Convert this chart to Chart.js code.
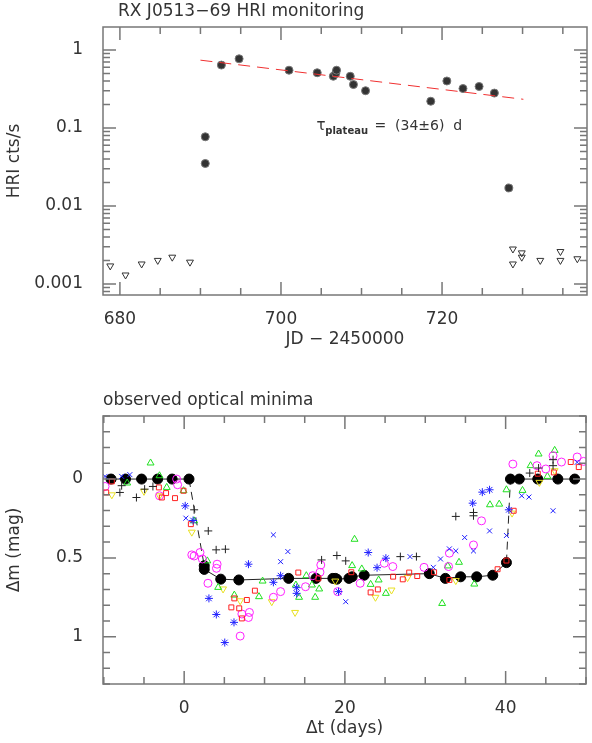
<!DOCTYPE html>
<html><head><meta charset="utf-8">
<script src="https://cdn.jsdelivr.net/npm/chart.js"></script>
<style>
body{margin:0;background:#fff;width:592px;height:743px;overflow:hidden}
.c{position:absolute;left:0;width:592px}
</style></head>
<body>
<div class="c" style="top:0;height:370px"><canvas id="top"></canvas></div>
<div class="c" style="top:370px;height:373px"><canvas id="bot"></canvas></div>
<script>
// ---- HRI monitoring (top panel) ----
const hriJD   = [690.6, 690.6, 692.6, 694.8, 701.0, 704.5, 706.5, 706.8, 706.9, 708.6, 709.0, 710.5, 718.6, 720.6, 722.6, 724.6, 726.5, 728.3];
const hriRate = [0.077, 0.035, 0.64, 0.77, 0.55, 0.51, 0.46, 0.50, 0.55, 0.46, 0.36, 0.30, 0.22, 0.40, 0.32, 0.34, 0.28, 0.017];
const limJD   = [678.8, 680.7, 682.7, 684.7, 686.5, 688.7, 728.8, 728.8, 729.9, 729.9, 732.2, 734.7, 734.7, 736.8];
const limRate = [0.0017, 0.0013, 0.0018, 0.0020, 0.0022, 0.0019, 0.0028, 0.0018, 0.0025, 0.0022, 0.0020, 0.0026, 0.0020, 0.0021];
const fitJD   = [690.0, 730.1];
const fitRate = [0.74, 0.233];

// ---- optical minima (bottom panel) ----
const meanT = [-9.1, -7.3, -5.3, -3.3, -1.5, 0.6, 2.5, 2.5, 4.55, 6.8, 13.0, 16.4, 18.5, 18.8, 19.0, 20.5, 20.9, 22.4, 30.5, 32.5, 34.4, 36.4, 38.4, 40.1, 40.6, 41.7, 44.0, 46.5, 48.6];
const meanM = [0, 0, 0, 0, 0, 0, 0.55, 0.573, 0.635, 0.64, 0.63, 0.63, 0.63, 0.63, 0.635, 0.63, 0.62, 0.61, 0.60, 0.63, 0.62, 0.62, 0.61, 0.53, 0, 0, 0, 0, 0];

const plusT = [-7.78, -8.0, -5.94, -4.92, -3.89, 1.24, 3.0, 3.98, 5.13, 17.1, 19.0, 20.1, 26.9, 28.9, 33.8, 36.0, 36.0, 43.0, 44.1, 45.9, 45.9];
const plusM = [0.042, 0.085, 0.117, 0.064, 0.047, 0.195, 0.329, 0.449, 0.445, 0.513, 0.485, 0.519, 0.492, 0.492, 0.237, 0.212, 0.233, -0.038, -0.07, -0.123, -0.085];
const starT = [0.13, 1.11, 3.08, 4.0, 5.05, 6.2, 8.0, 11.1, 12.0, 14.0, 14.0, 19.2, 22.9, 24.0, 25.1, 35.9, 37.1, 38.0, 40.4];
const starM = [0.17, 0.263, 0.757, 0.859, 1.037, 0.909, 0.54, 0.655, 0.613, 0.689, 0.725, 0.714, 0.466, 0.562, 0.502, 0.153, 0.083, 0.068, 0.195];
const xT = [-9.84, -7.78, -6.76, 0.21, 11.1, 12.0, 12.9, 20.1, 28.1, 31.0, 31.9, 33.0, 33.8, 34.9, 36.0, 38.0, 40.1, 42.0, 42.9, 45.9, 48.9];
const xM = [-0.017, -0.017, -0.028, 0.248, 0.354, 0.524, 0.46, 0.778, 0.492, 0.56, 0.507, 0.443, 0.456, 0.371, 0.456, 0.329, 0.358, 0.106, 0.114, 0.201, -0.106];
const sqT = [-9.7, -9.0, -3.15, -2.78, -2.25, -1.14, -0.08, 0.83, 5.87, 6.24, 6.85, 7.18, 7.8, 8.8, 14.2, 16.7, 20.8, 23.2, 24.1, 26.0, 27.2, 28.0, 29.0, 31.1, 33.0, 39.0, 40.1, 41.0, 44.0, 46.0, 48.1, 49.1];
const sqM = [0.085, 0.015, 0.053, 0.117, 0.089, 0.121, 0.074, 0.286, 0.814, 0.757, 0.82, 0.884, 0.767, 0.708, 0.593, 0.63, 0.591, 0.719, 0.70, 0.619, 0.636, 0.593, 0.615, 0.591, 0.64, 0.572, 0.517, 0.201, -0.034, -0.042, -0.108, -0.076];
const circT = [-9.84, -3.07, -0.94, -0.82, 0.95, 1.24, 1.97, 2.26, 2.96, 4.1, 4.02, 6.97, 7.18, 8.0, 8.12, 11.1, 12.0, 15.1, 16.0, 17.0, 16.9, 19.1, 21.9, 24.9, 25.96, 29.85, 32.9, 33.0, 36.0, 37.0, 40.9, 43.9, 45.0, 45.9, 46.95, 48.9, 49.7];
const circM = [0.047, 0.106, 0, 0.036, 0.481, 0.488, 0.466, 0.507, 0.661, 0.54, 0.566, 0.996, 0.856, 0.878, 0.846, 0.75, 0.714, 0.683, 0.613, 0.545, 0.591, 0.714, 0.661, 0.534, 0.555, 0.56, 0.555, 0.47, 0.418, 0.265, -0.095, -0.085, -0.064, -0.148, -0.108, -0.14, -0.112];
const triT = [-7.09, -4.18, -3.07, -2.17, -0.08, 1.24, 2.88, 4.23, 6.24, 9.31, 9.76, 13.9, 14.3, 15.2, 15.9, 16.3, 16.8, 20.9, 21.2, 22.1, 23.2, 24.2, 25.1, 32.1, 32.8, 34.2, 36.1, 38.05, 39.2, 40.1, 42.1, 43.1, 44.1, 45.2, 46.1];
const triM = [0.025, -0.102, -0.021, 0.053, 0.074, 0.265, 0.519, 0.687, 0.736, 0.746, 0.647, 0.672, 0.75, 0.613, 0.672, 0.75, 0.697, 0.549, 0.382, 0.57, 0.668, 0.64, 0.725, 0.789, 0.551, 0.528, 0.666, 0.163, 0.159, 0.068, 0.072, -0.085, -0.159, -0.017, -0.182];
const dtriT = [-9.0, -5.0, -3.07, 0.95, 4.84, 6.97, 10.9, 13.8, 18.8, 23.8, 25.8, 27.8, 33.8, 40.8, 44.2, 46.1];
const dtriM = [0.10, 0.078, 0.106, 0.337, 0.697, 0.772, 0.778, 0.846, 0.647, 0.75, 0.704, 0.625, 0.644, 0.216, 0.021, -0.053];

const FONT = "DejaVu Sans";
const INK = "#333";
const pts = (xs, ys) => xs.map((x, i) => ({x: x, y: ys[i]}));

// frame + inward ticks on all four sides
function frameTicks(xMajor, xMinor, yMajor, yMinor) {
  return {
    id: "frame",
    afterDraw(chart) {
      const {ctx, chartArea: a, scales} = chart;
      const xs = scales.x, ys = scales.y;
      ctx.save();
      ctx.strokeStyle = "#777";
      ctx.lineWidth = 1.5;
      ctx.strokeRect(a.left, a.top, a.right - a.left, a.bottom - a.top);
      ctx.beginPath();
      const tx = (vals, len) => vals.forEach(v => {
        const p = xs.getPixelForValue(v);
        if (p < a.left || p > a.right) return;
        ctx.moveTo(p, a.bottom); ctx.lineTo(p, a.bottom - len);
        ctx.moveTo(p, a.top); ctx.lineTo(p, a.top + len);
      });
      const ty = (vals, len) => vals.forEach(v => {
        const p = ys.getPixelForValue(v);
        if (p < a.top || p > a.bottom) return;
        ctx.moveTo(a.left, p); ctx.lineTo(a.left + len, p);
        ctx.moveTo(a.right, p); ctx.lineTo(a.right - len, p);
      });
      tx(xMajor, 13); tx(xMinor, 7); ty(yMajor, 13); ty(yMinor, 7);
      ctx.stroke();
      ctx.restore();
    }
  };
}

function range(a, b, s) { const r = []; for (let v = a; v <= b + 1e-9; v += s) r.push(+v.toFixed(4)); return r; }

const textPlugin = (items) => ({
  id: "txt",
  afterDraw(chart) {
    const ctx = chart.ctx;
    ctx.save();
    ctx.fillStyle = INK;
    items(chart).forEach(t => {
      ctx.font = t.font; ctx.textAlign = t.align || "left"; ctx.textBaseline = "middle";
      ctx.fillText(t.text, t.x, t.y);
    });
    ctx.restore();
  }
});

// ----- top chart -----
const logMinor = [];
[0.0001, 0.001, 0.01, 0.1, 1].forEach(d => { for (let k = 2; k <= 9; k++) logMinor.push(d * k); });

new Chart(document.getElementById("top"), {
  type: "scatter",
  data: {
    datasets: [
      {data: pts(fitJD, fitRate), type: "line", showLine: true, borderColor: "#f03030", borderWidth: 1, borderDash: [12, 7], pointRadius: 0},
      {data: pts(hriJD, hriRate), pointStyle: "circle", pointRadius: 4, backgroundColor: "#333", borderColor: "#777", borderWidth: 1},
      {data: pts(limJD, limRate), pointStyle: "triangle", rotation: 180, pointRadius: 4, backgroundColor: "rgba(0,0,0,0)", borderColor: "#333", borderWidth: 1}
    ]
  },
  options: {
    responsive: true, maintainAspectRatio: false, animation: false,
    layout: {padding: {top: 27, right: 0, left: 0, bottom: 16}},
    plugins: {legend: {display: false}, tooltip: {enabled: false}},
    scales: {
      x: {
        type: "linear", min: 677.9, max: 738,
        grid: {display: false}, border: {display: false},
        afterBuildTicks: s => { s.ticks = [680, 700, 720].map(v => ({value: v})); },
        afterFit: s => { s.height = 59; },
        ticks: {color: INK, font: {family: FONT, size: 17}, padding: 6, maxRotation: 0},
        title: {display: true, text: "JD \u2212 2450000", color: INK, font: {family: FONT, size: 17}, padding: {top: 4}}
      },
      y: {
        type: "logarithmic", min: 0.00072, max: 1.97,
        grid: {display: false}, border: {display: false},
        afterBuildTicks: s => { s.ticks = [0.001, 0.01, 0.1, 1].map(v => ({value: v})); },
        afterFit: s => { s.width = 103; },
        ticks: {color: INK, font: {family: FONT, size: 17}, padding: 12, callback: v => String(v)},
        title: {display: true, text: "HRI cts/s", color: INK, font: {family: FONT, size: 17}, padding: {bottom: 2}}
      }
    }
  },
  plugins: [
    frameTicks([680, 700, 720], range(680, 740, 5), [0.001, 0.01, 0.1, 1], logMinor),
    textPlugin(ch => {
      const xs = ch.scales.x, ys = ch.scales.y;
      return [
        {text: "RX J0513\u221269 HRI monitoring", x: 118, y: 12, font: "17px " + FONT},
        {text: "\u03c4", x: xs.getPixelForValue(704.4), y: ys.getPixelForValue(0.105), font: "15px " + FONT},
        {text: "plateau", x: xs.getPixelForValue(705.5), y: ys.getPixelForValue(0.09), font: "bold 10px " + FONT},
        {text: "=  (34\u00b16)  d", x: xs.getPixelForValue(711.6), y: ys.getPixelForValue(0.105), font: "14px " + FONT}
      ];
    })
  ]
});

// ----- bottom chart -----
const openStyle = (col, style, r, extra) => Object.assign({
  pointStyle: style, pointRadius: r, backgroundColor: "rgba(0,0,0,0)", borderColor: col, borderWidth: 1
}, extra || {});

new Chart(document.getElementById("bot"), {
  type: "scatter",
  data: {
    datasets: [
      Object.assign({data: pts(plusT, plusM)}, openStyle("#222", "cross", 4)),
      Object.assign({data: pts(starT, starM)}, openStyle("#2020ff", "star", 4)),
      Object.assign({data: pts(xT, xM)}, openStyle("#2020ff", "crossRot", 3.5)),
      Object.assign({data: pts(sqT, sqM)}, openStyle("#ff2020", "rect", 3.5)),
      Object.assign({data: pts(circT, circM)}, openStyle("#ff20ff", "circle", 4)),
      Object.assign({data: pts(triT, triM)}, openStyle("#20e020", "triangle", 4)),
      Object.assign({data: pts(dtriT, dtriM)}, openStyle("#e8e020", "triangle", 4, {rotation: 180})),
      {data: pts(meanT, meanM), type: "line", showLine: true, borderColor: "#222", borderWidth: 1,
       pointStyle: "circle", pointRadius: 5, backgroundColor: "#000", pointBorderColor: "#000",
       segment: {borderDash: c => (meanM[c.p0DataIndex] === 0) !== (meanM[c.p1DataIndex] === 0) ? [8, 5] : undefined}}
    ]
  },
  options: {
    responsive: true, maintainAspectRatio: false, animation: false,
    layout: {padding: {top: 46, right: 0, left: 0, bottom: 0}},
    plugins: {legend: {display: false}, tooltip: {enabled: false}},
    scales: {
      x: {
        type: "linear", min: -10.1, max: 50,
        grid: {display: false}, border: {display: false},
        afterBuildTicks: s => { s.ticks = [0, 20, 40].map(v => ({value: v})); },
        afterFit: s => { s.height = 59; },
        ticks: {color: INK, font: {family: FONT, size: 17}, padding: 6, maxRotation: 0},
        title: {display: true, text: "\u0394t (days)", color: INK, font: {family: FONT, size: 17}, padding: {top: 4}}
      },
      y: {
        type: "linear", min: -0.4, max: 1.3, reverse: true,
        grid: {display: false}, border: {display: false},
        afterBuildTicks: s => { s.ticks = [0, 0.5, 1].map(v => ({value: v})); },
        afterFit: s => { s.width = 103; },
        ticks: {color: INK, font: {family: FONT, size: 17}, padding: 12, callback: v => String(v)},
        title: {display: true, text: "\u0394m (mag)", color: INK, font: {family: FONT, size: 17}, padding: {bottom: 2}}
      }
    }
  },
  plugins: [
    frameTicks([0, 20, 40], range(-10, 50, 5), [0, 0.5, 1], range(-0.4, 1.3, 0.1)),
    textPlugin(() => [{text: "observed optical minima", x: 103, y: 31, font: "17px " + FONT}])
  ]
});
</script>
</body></html>
